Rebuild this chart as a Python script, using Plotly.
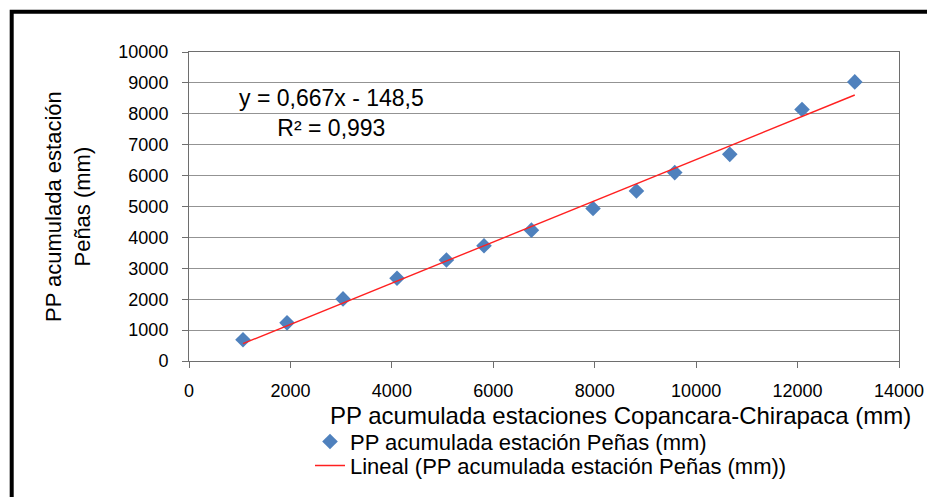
import plotly.graph_objects as go

# Data
x_copancara = [1065, 1933, 3037, 4102, 5076, 5817, 6752, 7967, 8823, 9578, 10663, 12088, 13128]
y_penas = [690, 1235, 2010, 2677, 3268, 3729, 4235, 4935, 5503, 6097, 6687, 8139, 9032]
slope = 0.667
intercept = -148.5
r2 = 0.993

x_ticks = [0, 2000, 4000, 6000, 8000, 10000, 12000, 14000]
y_ticks = [0, 1000, 2000, 3000, 4000, 5000, 6000, 7000, 8000, 9000, 10000]

series_name = "PP acumulada estación Peñas (mm)"
trend_name = "Lineal (PP acumulada estación Peñas (mm))"
x_title = "PP acumulada estaciones Copancara-Chirapaca (mm)"
y_title = "PP acumulada estación<br>Peñas (mm)"

fit_x = [min(x_copancara), max(x_copancara)]
fit_y = [slope * v + intercept for v in fit_x]

FONT = "Liberation Sans, Arial, sans-serif"

fig = go.Figure()
fig.add_trace(go.Scatter(
    x=x_copancara, y=y_penas, mode="markers", name=series_name,
    marker=dict(symbol="diamond", size=12, color="#4F81BD", line=dict(width=0)),
    legend="legend",
))
fig.add_trace(go.Scatter(
    x=fit_x, y=fit_y, mode="lines", name=trend_name,
    line=dict(color="#FF2020", width=1.4),
    legend="legend2",
))

axis_common = dict(
    showline=True, linecolor="#6e6e6e", linewidth=1, mirror=True,
    ticks="outside", ticklen=6, tickcolor="#6e6e6e", tickwidth=1,
    tickfont=dict(family=FONT, size=18, color="#000"),
    tickformat="d", zeroline=False,
)

fig.update_xaxes(range=[0, 14000], tickvals=x_ticks, showgrid=False,
                 ticklabelstandoff=7, **axis_common)
fig.update_yaxes(range=[0, 10000], tickvals=y_ticks, showgrid=True,
                 gridcolor="#939393", gridwidth=1, ticklabelstandoff=10, **axis_common)

def px_x(p):
    return (p - 189.0) / 710.0

def px_y(p):
    return (362.0 - p) / 310.0

fig.add_annotation(
    text=f"y = {str(slope).replace('.', ',')}x - {str(-intercept).replace('.', ',')}<br>R² = {str(r2).replace('.', ',')}",
    xref="paper", yref="paper", x=px_x(331), y=px_y(113), xanchor="center", yanchor="middle",
    showarrow=False, align="center", font=dict(family=FONT, size=23, color="#000"),
)
fig.add_annotation(
    text=x_title, xref="paper", yref="paper", x=px_x(328), y=px_y(417),
    xanchor="left", yanchor="middle", showarrow=False,
    font=dict(family=FONT, size=24, color="#000"),
)
fig.add_annotation(
    text=y_title, xref="paper", yref="paper", x=px_x(67.5), y=px_y(207),
    xanchor="center", yanchor="middle", showarrow=False, textangle=-90, align="center",
    font=dict(family=FONT, size=22, color="#000"),
)

# outer frame (partially visible in the reference)
fig.add_shape(type="rect", xref="paper", yref="paper",
              x0=px_x(11.7), x1=px_x(1000), y0=px_y(560), y1=px_y(11.7),
              line=dict(color="#000", width=4), fillcolor="rgba(0,0,0,0)")

leg_common = dict(xanchor="left", yanchor="middle", bgcolor="rgba(0,0,0,0)", borderwidth=0,
                  font=dict(family=FONT, size=22, color="#000"))
fig.update_layout(
    width=927, height=489,
    margin=dict(l=181, r=36, t=44, b=135),
    paper_bgcolor="white", plot_bgcolor="white",
    showlegend=True,
    legend=dict(x=px_x(310), y=px_y(441.7), **leg_common),
    legend2=dict(x=px_x(310), y=px_y(465.7), **leg_common),
)

fig.write_html("out.html")
